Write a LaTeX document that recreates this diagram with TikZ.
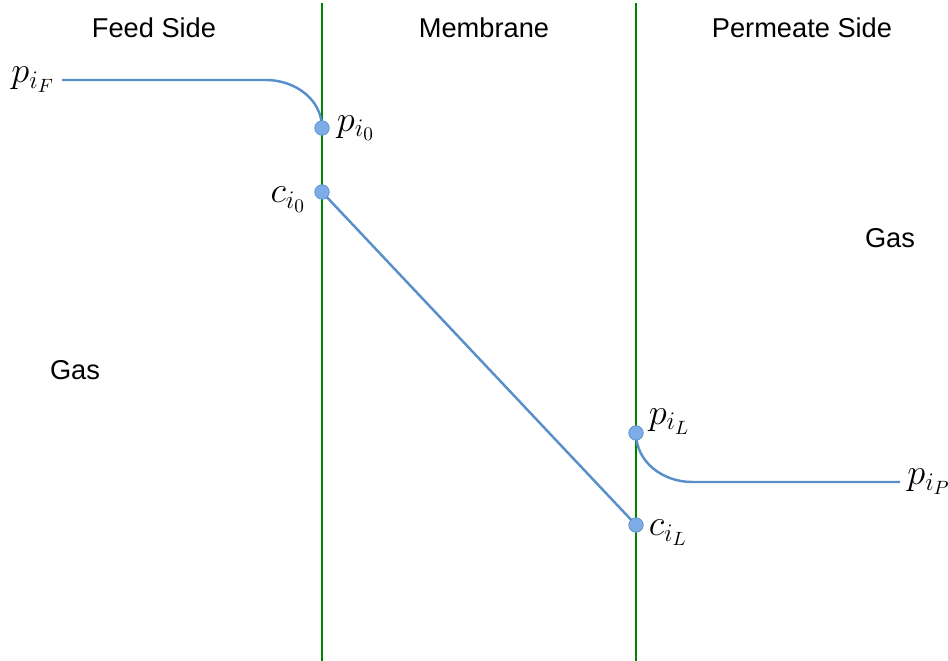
\documentclass[tikz,border=0pt]{standalone}
\usepackage{fontspec}
\usetikzlibrary{backgrounds,positioning}
\newfontfamily\labelfont{Liberation Sans}
\definecolor{wallgreen}{RGB}{0,135,0}
\definecolor{flowblue}{RGB}{88,143,203}
\definecolor{dotblue}{RGB}{125,172,232}
\begin{document}
\begin{tikzpicture}[x=0.02cm, y=-0.02cm,
    wall/.style={wallgreen, line width=1.4pt},
    flow/.style={flowblue, line width=1.4pt},
    dot/.style={circle, fill=dotblue, draw=flowblue, line width=0.4pt, inner sep=0pt, minimum size=0.29cm},
    side/.style={font=\labelfont\fontsize{15.5}{18}\selectfont},
    quant/.style={font=\fontsize{22}{26}\selectfont, inner sep=0pt}]
                \useasboundingbox (0,0) rectangle (948,661);

                % Headings
                \node[side] (feed) at (154,28) {Feed Side};
                \node[side] (memb) at (484,28) {Membrane};
                \node[side] (perm) at (802,28) {Permeate Side};
                \node[side] (gasF) at (75,370) {Gas};
                \node[side] (gasP) at (890,238) {Gas};

                % Interface points
                \node[dot] (pi0) at (322,128) {};
                \node[dot] (ci0) at (322,192) {};
                \node[dot] (piL) at (636,433) {};
                \node[dot] (ciL) at (636,525) {};

                \coordinate (fstart) at (62,80);
                \coordinate (fbend) at (266,80);
                \coordinate (pbend) at (692,482);
                \coordinate (pend) at (900,482);

                % Labels
                \node[quant, left=4pt of fstart] (lpF) {$p_{i_F}$};
                \node[quant, right=4pt of pi0] (lpi0) {$p_{i_0}$};
                \node[quant, below left=-6pt and 6pt of ci0] (lci0) {$c_{i_0}$};
                \node[quant, above right=-4pt and 4pt of piL] (lpiL) {$p_{i_L}$};
                \node[quant, below right=-6pt and 4pt of ciL] (lciL) {$c_{i_L}$};
                \node[quant, right=4pt of pend] (lpP) {$p_{i_P}$};

                \begin{scope}[on background layer]
                % Membrane walls
                \draw[wall] (322,3) -- (322,661);
                \draw[wall] (636,3) -- (636,661);

                % Profiles
                \draw[flow] (fstart) -- (fbend) to[out=0, in=90] (pi0.center);
                \draw[flow] (ci0.center) -- (ciL.center);
                \draw[flow] (piL.center) to[out=-90, in=180] (pbend) -- (pend);
                \end{scope}
            \end{tikzpicture}
\end{document}
